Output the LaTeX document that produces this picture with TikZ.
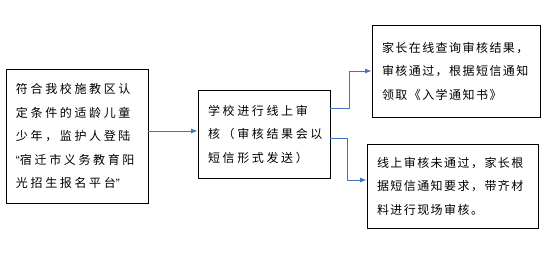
\documentclass[tikz,border=0pt]{standalone}
\usepackage{fontspec}
\setmainfont{Noto Sans CJK SC}
\newfontfamily\quotefont{Liberation Sans}
\usetikzlibrary{arrows.meta}
\definecolor{linkblue}{HTML}{4472C4}

\begin{document}
\begin{tikzpicture}[
    x=1pt,
    y=-1pt,
    box/.style={
      draw,
      line width=0.8pt,
      inner xsep=10pt,
      align=left,
      font=\fontsize{12}{23.5}\selectfont\addfontfeatures{LetterSpace=12}
    },
    wide/.style={
      font=\fontsize{12}{23.5}\selectfont\addfontfeatures{LetterSpace=22}
    },
    link/.style={
      ->,
      draw=linkblue,
      line width=0.8pt
    },
    >=Latex
  ]
    \useasboundingbox (0,0) rectangle (550,256);

    % --- Left: application
    \node[box, wide, minimum width=142pt, minimum height=134pt, text width=122pt] (apply) at (77,136)
      {符合我校施教区认\\定条件的适龄儿童\\少年，监护人登陆\\{\quotefont “}宿迁市义务教育阳\\光招生报名平台{\quotefont ”}};

    % --- Middle: online review
    \node[box, wide, minimum width=132pt, minimum height=88pt, text width=112pt] (review) at (264,134)
      {学校进行线上审\\核（审核结果会以\\短信形式发送）};

    % --- Right: two outcomes
    \node[box, minimum width=168pt, minimum height=92pt, text width=148pt] (notice) at (456,71)
      {家长在线查询审核结果，\\审核通过，根据短信通知\\领取《入学通知书》};
    \node[box, minimum width=171pt, minimum height=84pt, text width=151pt] (onsite) at (452.5,186)
      {线上审核未通过，家长根\\据短信通知要求，带齐材\\料进行现场审核。};

    % --- Connectors
    \draw[link] ([yshift=5pt]apply.east) -- ([yshift=3pt]review.west);
    \draw[link] ([yshift=26pt]review.east) -- ++(19,0) |- (notice.west);
    \draw[link] ([yshift=-4pt]review.east) -- ++(17,0) |- ([yshift=6pt]onsite.west);

\end{tikzpicture}
\end{document}
